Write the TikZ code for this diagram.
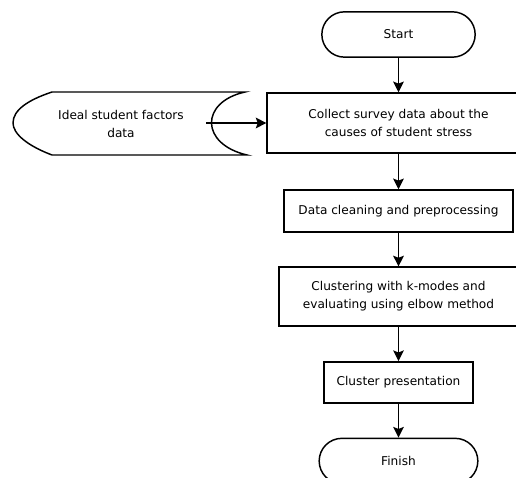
\documentclass[tikz,border=0pt]{standalone}
\usepackage{fontspec}
\setmainfont{DejaVu Sans}
\usetikzlibrary{arrows.meta,positioning,calc}

\begin{document}
\begin{tikzpicture}[
  x=0.75pt, y=-0.75pt,
  box/.style={draw, line width=1.1pt, align=center, inner sep=0pt,
    font=\fontsize{9.1}{13.5}\selectfont},
  term/.style={box, rounded corners=17pt},
  arr/.style={-{Stealth[length=8pt, width=8pt, inset=1.5pt]}, line width=1.1pt},
]
% page
\fill[white] (0,0) rectangle (516,477);
\useasboundingbox (0,0) rectangle (516,477);
\clip (0,0) rectangle (516,477);
% main column
\node[term, minimum width=115pt, minimum height=34pt] (start) at (398.5,34.5) {Start};
\node[box, minimum width=197pt, minimum height=45pt] (collect) at (398.5,123)
  {Collect survey data about the\\causes of student stress};
\node[box, minimum width=172pt, minimum height=31.5pt] (clean) at (398.5,211)
  {Data cleaning and preprocessing};
\node[box, minimum width=179pt, minimum height=44pt] (cluster) at (398.5,296.5)
  {Clustering with k-modes and\\evaluating using elbow method};
\node[box, minimum width=112pt, minimum height=31pt] (present) at (398.5,382.5)
  {Cluster presentation};
\node[term, minimum width=119pt, minimum height=34pt] (finish) at (398.5,461) {Finish};
% stored data
\draw[line width=1.1pt] (52,92) -- (245,92)
  .. controls (200,102) and (200,144) .. (247,155) -- (52,155)
  .. controls (28,146) and (13,134) .. (13,123)
  .. controls (13,110) and (28,100) .. (52,92) -- cycle;
\node[box, draw=none] (store) at (121,124) {Ideal student factors\\data};
\coordinate (storeR) at (206,123);
% flow
\draw[arr] (start) -- (collect);
\draw[arr] (storeR) -- (collect);
\draw[arr] (collect) -- (clean);
\draw[arr] (clean) -- (cluster);
\draw[arr] (cluster) -- (present);
\draw[arr] (present) -- (finish);
\end{tikzpicture}
\end{document}
